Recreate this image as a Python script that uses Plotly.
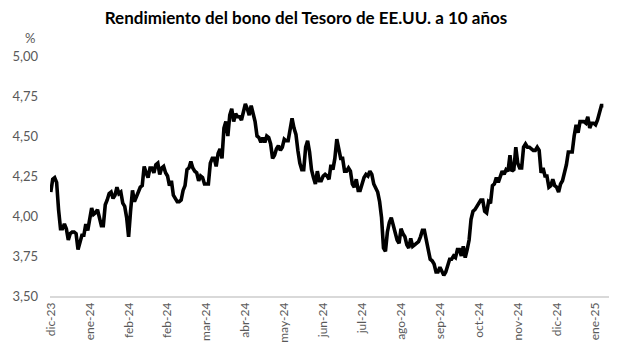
import plotly.graph_objects as go

# 10-year US Treasury yield (%), business days from 2023-12-07 to 2025-01-08
dec_2023 = [4.15, 4.23, 4.24, 4.21, 4.04, 3.92, 3.92, 3.95, 3.92, 3.85, 3.89, 3.90,
            3.90, 3.89, 3.79, 3.84, 3.88]
jan_2024 = [3.88, 3.95, 3.91, 3.99, 4.05, 4.01, 4.02, 4.04, 3.98, 3.94, 3.94, 4.07,
            4.10, 4.14, 4.15, 4.11, 4.13, 4.18, 4.14, 4.15, 4.08, 4.06, 3.99]
feb_2024 = [3.87, 4.03, 4.16, 4.09, 4.12, 4.15, 4.18, 4.19, 4.31, 4.27, 4.24, 4.30,
            4.30, 4.27, 4.32, 4.33, 4.26, 4.30, 4.31, 4.27, 4.25]
mar_2024 = [4.19, 4.22, 4.13, 4.11, 4.09, 4.09, 4.10, 4.16, 4.19, 4.29, 4.30, 4.34,
            4.30, 4.28, 4.27, 4.22, 4.25, 4.24, 4.20, 4.20, 4.20]
apr_2024 = [4.33, 4.36, 4.36, 4.31, 4.39, 4.42, 4.36, 4.55, 4.59, 4.50, 4.63, 4.67,
            4.59, 4.64, 4.62, 4.62, 4.60, 4.65, 4.70, 4.67, 4.63, 4.69]
may_2024 = [4.63, 4.59, 4.50, 4.49, 4.46, 4.49, 4.46, 4.50, 4.49, 4.45, 4.36, 4.38,
            4.42, 4.44, 4.41, 4.43, 4.48, 4.47, 4.47, 4.55, 4.61, 4.55, 4.51]
jun_2024 = [4.41, 4.33, 4.29, 4.29, 4.43, 4.47, 4.40, 4.29, 4.24, 4.20, 4.28, 4.22,
            4.22, 4.25, 4.26, 4.25, 4.23, 4.32, 4.29, 4.36]
jul_2024 = [4.48, 4.43, 4.36, 4.36, 4.28, 4.28, 4.30, 4.28, 4.20, 4.18, 4.23, 4.16,
            4.16, 4.20, 4.24, 4.26, 4.25, 4.28, 4.26, 4.20, 4.17, 4.15, 4.09]
aug_2024 = [3.99, 3.80, 3.78, 3.90, 3.96, 3.99, 3.94, 3.90, 3.85, 3.83, 3.92, 3.89,
            3.87, 3.82, 3.80, 3.86, 3.81, 3.82, 3.83, 3.84, 3.87, 3.91]
sep_2024 = [3.91, 3.84, 3.77, 3.73, 3.72, 3.70, 3.65, 3.65, 3.68, 3.66, 3.63, 3.65,
            3.70, 3.73, 3.73, 3.75, 3.74, 3.79, 3.79, 3.75, 3.81]
oct_2024 = [3.74, 3.79, 3.85, 3.98, 4.03, 4.04, 4.06, 4.09, 4.10, 4.10, 4.03, 4.02,
            4.09, 4.08, 4.19, 4.20, 4.24, 4.21, 4.24, 4.28, 4.26, 4.29, 4.28]
nov_2024 = [4.38, 4.28, 4.29, 4.43, 4.33, 4.30, 4.30, 4.43, 4.45, 4.43, 4.43, 4.42,
            4.41, 4.41, 4.43, 4.41, 4.27, 4.30, 4.25, 4.25, 4.18]
dec_2024 = [4.19, 4.23, 4.19, 4.18, 4.15, 4.20, 4.22, 4.27, 4.32, 4.40, 4.40, 4.40,
            4.50, 4.57, 4.52, 4.59, 4.59, 4.59, 4.58, 4.62, 4.55, 4.58]
jan_2025 = [4.58, 4.57, 4.60, 4.64, 4.69, 4.69]

month_labels = ["dic-23", "ene-24", "feb-24", "feb-24", "mar-24", "abr-24", "may-24",
                "jun-24", "jul-24", "ago-24", "sep-24", "oct-24", "nov-24", "dic-24",
                "ene-25"]
label_every = 20

title_text = "Rendimiento del bono del Tesoro de EE.UU. a 10 años"
unit_text = "%"

yields = (dec_2023 + jan_2024 + feb_2024 + mar_2024 + apr_2024 + may_2024 + jun_2024
          + jul_2024 + aug_2024 + sep_2024 + oct_2024 + nov_2024 + dec_2024 + jan_2025)
idx = list(range(len(yields)))

FONT = "Lato, 'Open Sans', sans-serif"
GREY = "#595959"

fig = go.Figure()
fig.add_trace(go.Scatter(
    x=idx, y=yields, mode="lines",
    line=dict(color="#000000", width=3.6, shape="linear"),
    hoverinfo="skip", showlegend=False,
))

fig.update_layout(
    width=631, height=355,
    margin=dict(l=50, r=22, t=56, b=59, autoexpand=False),
    paper_bgcolor="white", plot_bgcolor="white",
    separators=",.",
    font=dict(family=FONT, size=12, color=GREY),
    title=dict(text="<b>" + title_text + "</b>", xref="container", x=306 / 631,
               xanchor="center", y=1 - 18 / 355, yanchor="middle",
               font=dict(family=FONT, size=17, color="#000000")),
    xaxis=dict(
        range=[-0.4, 286.9],
        tickmode="array",
        tickvals=[i * label_every for i in range(len(month_labels))],
        ticktext=month_labels,
        tickangle=-90,
        showgrid=False, zeroline=False,
        showline=True, linecolor="#d9d9d9", linewidth=1.5,
        ticks="", tickfont=dict(size=12, color=GREY),
        automargin=False,
    ),
    yaxis=dict(
        range=[3.5, 5.0], dtick=0.25, tick0=3.5, tickformat=".2f",
        showgrid=False, zeroline=False, showline=False, ticks="",
        tickfont=dict(size=13, color=GREY), ticklabelstandoff=11,
        automargin=False,
    ),
    annotations=[dict(text=unit_text, xref="paper", yref="paper",
                      x=-20 / 559, y=1 + 18 / 240, xanchor="center", yanchor="middle",
                      showarrow=False, font=dict(size=13, color=GREY))],
)

fig.write_html("out.html", config={"displayModeBar": False},
               post_script="document.body.style.margin='0';")
